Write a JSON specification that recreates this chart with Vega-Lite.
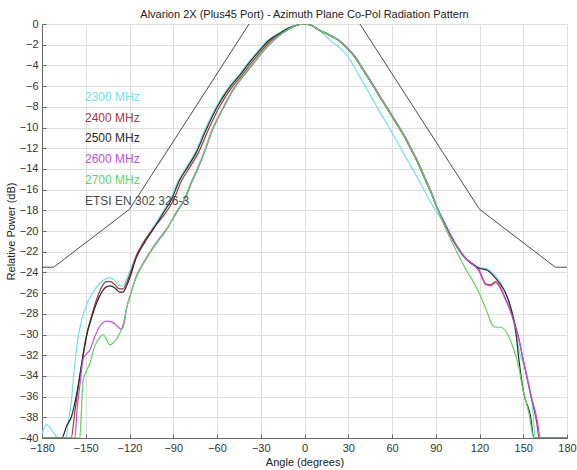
{
"$schema": "https://vega.github.io/schema/vega-lite/v6.json",
"width": 525, "height": 414,
"autosize": {"type": "none"},
"padding": {"left": 42, "top": 24, "right": 10, "bottom": 32},
"background": "white",
"title": {"text": "Alvarion 2X (Plus45 Port) - Azimuth Plane Co-Pol Radiation Pattern", "font": "Liberation Sans", "fontSize": 11, "fontWeight": "normal", "color": "#222222", "offset": -2},
"config": {
  "view": {"stroke": "#dcdcdc"},
  "axis": {"labelFont": "Liberation Sans", "labelFontSize": 11, "labelColor": "#333333", "labelFlush": false, "titleFont": "Liberation Sans", "titleFontSize": 11, "titleFontWeight": "normal", "titleColor": "#222222", "gridColor": "#dedede", "gridWidth": 1, "domainColor": "#666666", "tickColor": "#666666", "tickSize": -4, "labelPadding": 8}
},
"data": {"values": [
{"s":"2300 MHz","a":-180,"d":-39.6},{"s":"2300 MHz","a":-177,"d":-38.7},{"s":"2300 MHz","a":-175,"d":-38.9},{"s":"2300 MHz","a":-172,"d":-39.5},{"s":"2300 MHz","a":-169,"d":-40},{"s":"2300 MHz","a":-163.5,"d":-40},{"s":"2300 MHz","a":-162,"d":-38.5},{"s":"2300 MHz","a":-160,"d":-36.6},{"s":"2300 MHz","a":-157.5,"d":-32.8},{"s":"2300 MHz","a":-155.5,"d":-30.5},{"s":"2300 MHz","a":-153,"d":-28.7},{"s":"2300 MHz","a":-150,"d":-27.3},{"s":"2300 MHz","a":-145,"d":-25.9},{"s":"2300 MHz","a":-140,"d":-25.0},{"s":"2300 MHz","a":-136,"d":-24.6},{"s":"2300 MHz","a":-133.6,"d":-24.5},{"s":"2300 MHz","a":-130,"d":-24.8},{"s":"2300 MHz","a":-127,"d":-25.3},{"s":"2300 MHz","a":-124.5,"d":-25.3},{"s":"2300 MHz","a":-121,"d":-24.3},{"s":"2300 MHz","a":-118,"d":-23.3},{"s":"2300 MHz","a":-115.4,"d":-22.5},{"s":"2300 MHz","a":-110,"d":-21.0},{"s":"2300 MHz","a":-105,"d":-19.9},{"s":"2300 MHz","a":-97.8,"d":-18.3},{"s":"2300 MHz","a":-91.8,"d":-16.9},{"s":"2300 MHz","a":-86.8,"d":-15.2},{"s":"2300 MHz","a":-80.8,"d":-13.8},{"s":"2300 MHz","a":-75.3,"d":-12.5},{"s":"2300 MHz","a":-68.5,"d":-10.3},{"s":"2300 MHz","a":-60.6,"d":-8.0},{"s":"2300 MHz","a":-51.5,"d":-6.0},{"s":"2300 MHz","a":-44.8,"d":-4.9},{"s":"2300 MHz","a":-39,"d":-3.8},{"s":"2300 MHz","a":-31.8,"d":-2.6},{"s":"2300 MHz","a":-25.3,"d":-1.6},{"s":"2300 MHz","a":-17.8,"d":-0.9},{"s":"2300 MHz","a":-11.5,"d":-0.4},{"s":"2300 MHz","a":-5.3,"d":-0.1},{"s":"2300 MHz","a":0,"d":0},{"s":"2300 MHz","a":5,"d":-0.2},{"s":"2300 MHz","a":10,"d":-0.6},{"s":"2300 MHz","a":17,"d":-1.5},{"s":"2300 MHz","a":24,"d":-2.3},{"s":"2300 MHz","a":30,"d":-3.2},{"s":"2300 MHz","a":35,"d":-4.4},{"s":"2300 MHz","a":40,"d":-5.6},{"s":"2300 MHz","a":50,"d":-8.1},{"s":"2300 MHz","a":60,"d":-10.5},{"s":"2300 MHz","a":70,"d":-13.0},{"s":"2300 MHz","a":80,"d":-15.5},{"s":"2300 MHz","a":86,"d":-17.1},{"s":"2300 MHz","a":92.5,"d":-18.6},{"s":"2300 MHz","a":100.4,"d":-20.4},{"s":"2300 MHz","a":109.5,"d":-22.4},{"s":"2300 MHz","a":119.8,"d":-23.5},{"s":"2300 MHz","a":125.4,"d":-23.7},{"s":"2300 MHz","a":130,"d":-24.2},{"s":"2300 MHz","a":136.8,"d":-25.6},{"s":"2300 MHz","a":141.3,"d":-27.4},{"s":"2300 MHz","a":145,"d":-30.0},{"s":"2300 MHz","a":148,"d":-32.0},{"s":"2300 MHz","a":151.6,"d":-33.4},{"s":"2300 MHz","a":156.1,"d":-36.6},{"s":"2300 MHz","a":158.4,"d":-40},{"s":"2300 MHz","a":180,"d":-40},
{"s":"2400 MHz","a":-180,"d":-40},{"s":"2400 MHz","a":-160,"d":-40},{"s":"2400 MHz","a":-157.5,"d":-37.5},{"s":"2400 MHz","a":-155,"d":-35.0},{"s":"2400 MHz","a":-152.5,"d":-32.5},{"s":"2400 MHz","a":-150,"d":-30.4},{"s":"2400 MHz","a":-146,"d":-28.2},{"s":"2400 MHz","a":-142.5,"d":-26.6},{"s":"2400 MHz","a":-139,"d":-25.4},{"s":"2400 MHz","a":-136,"d":-24.9},{"s":"2400 MHz","a":-133,"d":-24.9},{"s":"2400 MHz","a":-130,"d":-25.2},{"s":"2400 MHz","a":-127,"d":-25.6},{"s":"2400 MHz","a":-124.5,"d":-25.6},{"s":"2400 MHz","a":-122,"d":-25.0},{"s":"2400 MHz","a":-119,"d":-23.9},{"s":"2400 MHz","a":-115.4,"d":-22.4},{"s":"2400 MHz","a":-110,"d":-21.0},{"s":"2400 MHz","a":-104,"d":-19.8},{"s":"2400 MHz","a":-95.5,"d":-18.3},{"s":"2400 MHz","a":-89.5,"d":-16.9},{"s":"2400 MHz","a":-84.5,"d":-15.2},{"s":"2400 MHz","a":-78.5,"d":-13.8},{"s":"2400 MHz","a":-73,"d":-12.5},{"s":"2400 MHz","a":-66.2,"d":-10.3},{"s":"2400 MHz","a":-58.3,"d":-8.0},{"s":"2400 MHz","a":-49.2,"d":-6.0},{"s":"2400 MHz","a":-42.5,"d":-4.9},{"s":"2400 MHz","a":-36.7,"d":-3.8},{"s":"2400 MHz","a":-29.5,"d":-2.6},{"s":"2400 MHz","a":-23,"d":-1.6},{"s":"2400 MHz","a":-15.8,"d":-0.9},{"s":"2400 MHz","a":-10,"d":-0.4},{"s":"2400 MHz","a":-4.5,"d":-0.1},{"s":"2400 MHz","a":0,"d":0},{"s":"2400 MHz","a":5,"d":-0.15},{"s":"2400 MHz","a":9.5,"d":-0.55},{"s":"2400 MHz","a":16,"d":-1.0},{"s":"2400 MHz","a":23,"d":-1.55},{"s":"2400 MHz","a":29,"d":-2.3},{"s":"2400 MHz","a":34.6,"d":-3.2},{"s":"2400 MHz","a":40,"d":-4.4},{"s":"2400 MHz","a":45.9,"d":-5.7},{"s":"2400 MHz","a":51.5,"d":-7.0},{"s":"2400 MHz","a":57.3,"d":-8.3},{"s":"2400 MHz","a":63,"d":-9.6},{"s":"2400 MHz","a":68.6,"d":-10.9},{"s":"2400 MHz","a":73,"d":-12.1},{"s":"2400 MHz","a":77.7,"d":-13.4},{"s":"2400 MHz","a":82,"d":-14.8},{"s":"2400 MHz","a":86.8,"d":-16.3},{"s":"2400 MHz","a":91.3,"d":-17.9},{"s":"2400 MHz","a":95.9,"d":-19.2},{"s":"2400 MHz","a":100.4,"d":-20.5},{"s":"2400 MHz","a":109.5,"d":-22.5},{"s":"2400 MHz","a":119.8,"d":-23.8},{"s":"2400 MHz","a":124.3,"d":-25.1},{"s":"2400 MHz","a":127.7,"d":-25.2},{"s":"2400 MHz","a":131,"d":-24.9},{"s":"2400 MHz","a":136.8,"d":-26.2},{"s":"2400 MHz","a":142.5,"d":-28.2},{"s":"2400 MHz","a":147,"d":-30.4},{"s":"2400 MHz","a":149.3,"d":-32.0},{"s":"2400 MHz","a":155,"d":-35.8},{"s":"2400 MHz","a":159,"d":-38.3},{"s":"2400 MHz","a":161,"d":-40},{"s":"2400 MHz","a":180,"d":-40},
{"s":"2500 MHz","a":-180,"d":-40},{"s":"2500 MHz","a":-166.5,"d":-40},{"s":"2500 MHz","a":-163,"d":-38.8},{"s":"2500 MHz","a":-159.7,"d":-37.9},{"s":"2500 MHz","a":-157,"d":-36.3},{"s":"2500 MHz","a":-154.1,"d":-34.0},{"s":"2500 MHz","a":-151.5,"d":-31.8},{"s":"2500 MHz","a":-149.5,"d":-30.2},{"s":"2500 MHz","a":-146,"d":-28.4},{"s":"2500 MHz","a":-142.7,"d":-27.0},{"s":"2500 MHz","a":-139,"d":-25.9},{"s":"2500 MHz","a":-135.9,"d":-25.4},{"s":"2500 MHz","a":-133,"d":-25.3},{"s":"2500 MHz","a":-130,"d":-25.5},{"s":"2500 MHz","a":-126.8,"d":-25.9},{"s":"2500 MHz","a":-124.5,"d":-25.9},{"s":"2500 MHz","a":-122,"d":-25.3},{"s":"2500 MHz","a":-119,"d":-24.2},{"s":"2500 MHz","a":-115.4,"d":-22.6},{"s":"2500 MHz","a":-110,"d":-21.2},{"s":"2500 MHz","a":-104,"d":-19.9},{"s":"2500 MHz","a":-97,"d":-18.3},{"s":"2500 MHz","a":-91,"d":-16.9},{"s":"2500 MHz","a":-86,"d":-15.2},{"s":"2500 MHz","a":-80,"d":-13.8},{"s":"2500 MHz","a":-74.5,"d":-12.5},{"s":"2500 MHz","a":-67.7,"d":-10.3},{"s":"2500 MHz","a":-59.8,"d":-8.0},{"s":"2500 MHz","a":-50.7,"d":-6.0},{"s":"2500 MHz","a":-44,"d":-4.9},{"s":"2500 MHz","a":-38.2,"d":-3.8},{"s":"2500 MHz","a":-31,"d":-2.6},{"s":"2500 MHz","a":-24.5,"d":-1.6},{"s":"2500 MHz","a":-17,"d":-0.9},{"s":"2500 MHz","a":-11,"d":-0.4},{"s":"2500 MHz","a":-5,"d":-0.1},{"s":"2500 MHz","a":0,"d":0},{"s":"2500 MHz","a":5,"d":-0.15},{"s":"2500 MHz","a":9.5,"d":-0.55},{"s":"2500 MHz","a":16,"d":-1.0},{"s":"2500 MHz","a":23,"d":-1.55},{"s":"2500 MHz","a":29,"d":-2.3},{"s":"2500 MHz","a":34.6,"d":-3.2},{"s":"2500 MHz","a":40,"d":-4.4},{"s":"2500 MHz","a":45.9,"d":-5.7},{"s":"2500 MHz","a":51.5,"d":-7.0},{"s":"2500 MHz","a":57.3,"d":-8.3},{"s":"2500 MHz","a":63,"d":-9.6},{"s":"2500 MHz","a":68.6,"d":-10.9},{"s":"2500 MHz","a":73,"d":-12.1},{"s":"2500 MHz","a":77.7,"d":-13.4},{"s":"2500 MHz","a":82,"d":-14.8},{"s":"2500 MHz","a":86.8,"d":-16.3},{"s":"2500 MHz","a":91.3,"d":-17.9},{"s":"2500 MHz","a":95.9,"d":-19.2},{"s":"2500 MHz","a":100.4,"d":-20.5},{"s":"2500 MHz","a":109.5,"d":-22.5},{"s":"2500 MHz","a":119.8,"d":-23.6},{"s":"2500 MHz","a":125.4,"d":-23.8},{"s":"2500 MHz","a":130,"d":-24.4},{"s":"2500 MHz","a":136.8,"d":-25.7},{"s":"2500 MHz","a":141.3,"d":-27.3},{"s":"2500 MHz","a":144.7,"d":-29.5},{"s":"2500 MHz","a":147,"d":-32.4},{"s":"2500 MHz","a":150.4,"d":-35.7},{"s":"2500 MHz","a":155,"d":-37.9},{"s":"2500 MHz","a":157.3,"d":-40},{"s":"2500 MHz","a":180,"d":-40},
{"s":"2600 MHz","a":-180,"d":-40},{"s":"2600 MHz","a":-157.5,"d":-40},{"s":"2600 MHz","a":-155.8,"d":-37},{"s":"2600 MHz","a":-154.1,"d":-35},{"s":"2600 MHz","a":-151.8,"d":-32.4},{"s":"2600 MHz","a":-149,"d":-31.8},{"s":"2600 MHz","a":-147.2,"d":-31.5},{"s":"2600 MHz","a":-143.8,"d":-30.2},{"s":"2600 MHz","a":-140.4,"d":-29.2},{"s":"2600 MHz","a":-137.5,"d":-28.8},{"s":"2600 MHz","a":-135.9,"d":-28.7},{"s":"2600 MHz","a":-132,"d":-28.8},{"s":"2600 MHz","a":-129,"d":-29.1},{"s":"2600 MHz","a":-125.6,"d":-29.5},{"s":"2600 MHz","a":-123.5,"d":-28.8},{"s":"2600 MHz","a":-122.2,"d":-27.6},{"s":"2600 MHz","a":-119,"d":-26.0},{"s":"2600 MHz","a":-115.4,"d":-24.4},{"s":"2600 MHz","a":-111,"d":-23.2},{"s":"2600 MHz","a":-106.3,"d":-22.1},{"s":"2600 MHz","a":-100,"d":-20.8},{"s":"2600 MHz","a":-95,"d":-19.9},{"s":"2600 MHz","a":-88,"d":-18.3},{"s":"2600 MHz","a":-82,"d":-16.9},{"s":"2600 MHz","a":-77,"d":-15.2},{"s":"2600 MHz","a":-72.5,"d":-13.8},{"s":"2600 MHz","a":-68.8,"d":-12.5},{"s":"2600 MHz","a":-63.2,"d":-10.3},{"s":"2600 MHz","a":-55.2,"d":-8.0},{"s":"2600 MHz","a":-47.2,"d":-6.0},{"s":"2600 MHz","a":-41,"d":-4.9},{"s":"2600 MHz","a":-34.8,"d":-3.8},{"s":"2600 MHz","a":-28,"d":-2.6},{"s":"2600 MHz","a":-21.1,"d":-1.6},{"s":"2600 MHz","a":-14,"d":-0.8},{"s":"2600 MHz","a":-8,"d":-0.3},{"s":"2600 MHz","a":0,"d":0},{"s":"2600 MHz","a":5.5,"d":-0.15},{"s":"2600 MHz","a":10,"d":-0.55},{"s":"2600 MHz","a":16.5,"d":-1.0},{"s":"2600 MHz","a":23.5,"d":-1.55},{"s":"2600 MHz","a":29.5,"d":-2.3},{"s":"2600 MHz","a":35.1,"d":-3.2},{"s":"2600 MHz","a":40.5,"d":-4.4},{"s":"2600 MHz","a":46.4,"d":-5.7},{"s":"2600 MHz","a":52,"d":-7.0},{"s":"2600 MHz","a":57.8,"d":-8.3},{"s":"2600 MHz","a":63.5,"d":-9.6},{"s":"2600 MHz","a":69.1,"d":-10.9},{"s":"2600 MHz","a":73.5,"d":-12.1},{"s":"2600 MHz","a":78.2,"d":-13.4},{"s":"2600 MHz","a":82.5,"d":-14.8},{"s":"2600 MHz","a":87.2,"d":-16.3},{"s":"2600 MHz","a":91.5,"d":-17.9},{"s":"2600 MHz","a":96,"d":-19.2},{"s":"2600 MHz","a":100.4,"d":-20.5},{"s":"2600 MHz","a":109.5,"d":-22.5},{"s":"2600 MHz","a":119.8,"d":-23.9},{"s":"2600 MHz","a":124.3,"d":-25.2},{"s":"2600 MHz","a":127.7,"d":-25.3},{"s":"2600 MHz","a":131,"d":-25.0},{"s":"2600 MHz","a":136.8,"d":-26.3},{"s":"2600 MHz","a":142.5,"d":-28.3},{"s":"2600 MHz","a":147,"d":-30.5},{"s":"2600 MHz","a":149.3,"d":-32.0},{"s":"2600 MHz","a":155,"d":-35.7},{"s":"2600 MHz","a":159.5,"d":-38.2},{"s":"2600 MHz","a":161.8,"d":-40},{"s":"2600 MHz","a":180,"d":-40},
{"s":"2700 MHz","a":-180,"d":-40},{"s":"2700 MHz","a":-154.1,"d":-40},{"s":"2700 MHz","a":-152.5,"d":-36},{"s":"2700 MHz","a":-151.8,"d":-34.4},{"s":"2700 MHz","a":-149.5,"d":-33.5},{"s":"2700 MHz","a":-147.2,"d":-32.8},{"s":"2700 MHz","a":-143.8,"d":-31.1},{"s":"2700 MHz","a":-140.5,"d":-30.3},{"s":"2700 MHz","a":-138.2,"d":-30.0},{"s":"2700 MHz","a":-136,"d":-30.4},{"s":"2700 MHz","a":-133.6,"d":-31.0},{"s":"2700 MHz","a":-131,"d":-30.8},{"s":"2700 MHz","a":-126.8,"d":-29.9},{"s":"2700 MHz","a":-124,"d":-28.8},{"s":"2700 MHz","a":-122.2,"d":-27.6},{"s":"2700 MHz","a":-119,"d":-26.0},{"s":"2700 MHz","a":-115.4,"d":-24.5},{"s":"2700 MHz","a":-111,"d":-23.3},{"s":"2700 MHz","a":-106.3,"d":-22.2},{"s":"2700 MHz","a":-100,"d":-20.9},{"s":"2700 MHz","a":-95,"d":-20.0},{"s":"2700 MHz","a":-88.5,"d":-18.3},{"s":"2700 MHz","a":-82.5,"d":-16.9},{"s":"2700 MHz","a":-77.5,"d":-15.2},{"s":"2700 MHz","a":-73,"d":-13.8},{"s":"2700 MHz","a":-69.3,"d":-12.5},{"s":"2700 MHz","a":-63.7,"d":-10.3},{"s":"2700 MHz","a":-55.7,"d":-8.0},{"s":"2700 MHz","a":-47.7,"d":-6.0},{"s":"2700 MHz","a":-41.5,"d":-4.9},{"s":"2700 MHz","a":-35.3,"d":-3.8},{"s":"2700 MHz","a":-28.5,"d":-2.6},{"s":"2700 MHz","a":-21.6,"d":-1.6},{"s":"2700 MHz","a":-14.5,"d":-0.8},{"s":"2700 MHz","a":-8.3,"d":-0.3},{"s":"2700 MHz","a":0,"d":0},{"s":"2700 MHz","a":5,"d":-0.15},{"s":"2700 MHz","a":9.5,"d":-0.55},{"s":"2700 MHz","a":16,"d":-1.0},{"s":"2700 MHz","a":23,"d":-1.55},{"s":"2700 MHz","a":29,"d":-2.3},{"s":"2700 MHz","a":34.6,"d":-3.2},{"s":"2700 MHz","a":40,"d":-4.4},{"s":"2700 MHz","a":45.9,"d":-5.7},{"s":"2700 MHz","a":51.5,"d":-7.0},{"s":"2700 MHz","a":57.3,"d":-8.3},{"s":"2700 MHz","a":63,"d":-9.6},{"s":"2700 MHz","a":68.6,"d":-10.9},{"s":"2700 MHz","a":73,"d":-12.1},{"s":"2700 MHz","a":77.7,"d":-13.4},{"s":"2700 MHz","a":82,"d":-14.8},{"s":"2700 MHz","a":86.8,"d":-16.3},{"s":"2700 MHz","a":91.3,"d":-17.95},{"s":"2700 MHz","a":95.9,"d":-19.5},{"s":"2700 MHz","a":101.6,"d":-21.2},{"s":"2700 MHz","a":109.5,"d":-23.4},{"s":"2700 MHz","a":119.8,"d":-26.0},{"s":"2700 MHz","a":125.4,"d":-27.9},{"s":"2700 MHz","a":128.8,"d":-29.1},{"s":"2700 MHz","a":131.5,"d":-29.3},{"s":"2700 MHz","a":134.5,"d":-29.3},{"s":"2700 MHz","a":139,"d":-29.9},{"s":"2700 MHz","a":143.6,"d":-31.5},{"s":"2700 MHz","a":147,"d":-33.2},{"s":"2700 MHz","a":149.3,"d":-35},{"s":"2700 MHz","a":153.9,"d":-37.6},{"s":"2700 MHz","a":157.3,"d":-40},{"s":"2700 MHz","a":180,"d":-40},
{"s":"ETSI EN 302 326-3","p":"L","a":-180,"d":-23.5},{"s":"ETSI EN 302 326-3","p":"L","a":-172,"d":-23.5},{"s":"ETSI EN 302 326-3","p":"L","a":-120,"d":-17.9},{"s":"ETSI EN 302 326-3","p":"L","a":-38,"d":0},
{"s":"ETSI EN 302 326-3","p":"R","a":38,"d":0},{"s":"ETSI EN 302 326-3","p":"R","a":120,"d":-17.9},{"s":"ETSI EN 302 326-3","p":"R","a":172,"d":-23.5},{"s":"ETSI EN 302 326-3","p":"R","a":180,"d":-23.5}
]},
"encoding": {
  "x": {"field": "a", "type": "quantitative", "scale": {"domain": [-180, 180], "nice": false}, "axis": {"values": [-180,-150,-120,-90,-60,-30,0,30,60,90,120,150,180], "title": "Angle (degrees)", "titlePadding": 3}},
  "y": {"field": "d", "type": "quantitative", "scale": {"domain": [-40, 0], "nice": false}, "axis": {"values": [-40,-38,-36,-34,-32,-30,-28,-26,-24,-22,-20,-18,-16,-14,-12,-10,-8,-6,-4,-2,0], "title": "Relative Power (dB)", "titlePadding": 3}},
  "color": {"field": "s", "type": "nominal",
    "scale": {"domain": ["2300 MHz","2400 MHz","2500 MHz","2600 MHz","2700 MHz","ETSI EN 302 326-3"], "range": ["#6fe3e8","#a8363a","#2a2a2a","#c24fd8","#5fd35f","#4a4a4a"]},
    "legend": {"title": null, "orient": "none", "legendX": 31, "legendY": 67, "symbolSize": 0, "symbolOpacity": 0, "symbolStrokeWidth": 0, "labelOffset": 0, "labelFont": "Liberation Sans", "labelFontSize": 12, "rowPadding": 8.7, "labelLimit": 300,
      "encode": {"labels": {"update": {"fill": {"scale": "color", "field": "value"}}}}}
  },
  "detail": {"field": "p"}
},
"layer": [
  {"transform": [{"filter": "datum.s !== 'ETSI EN 302 326-3'"}], "mark": {"type": "line", "strokeWidth": 1.2, "clip": true, "interpolate": "monotone"}},
  {"transform": [{"filter": "datum.s === 'ETSI EN 302 326-3'"}], "mark": {"type": "line", "strokeWidth": 1, "clip": true}}
]
}
